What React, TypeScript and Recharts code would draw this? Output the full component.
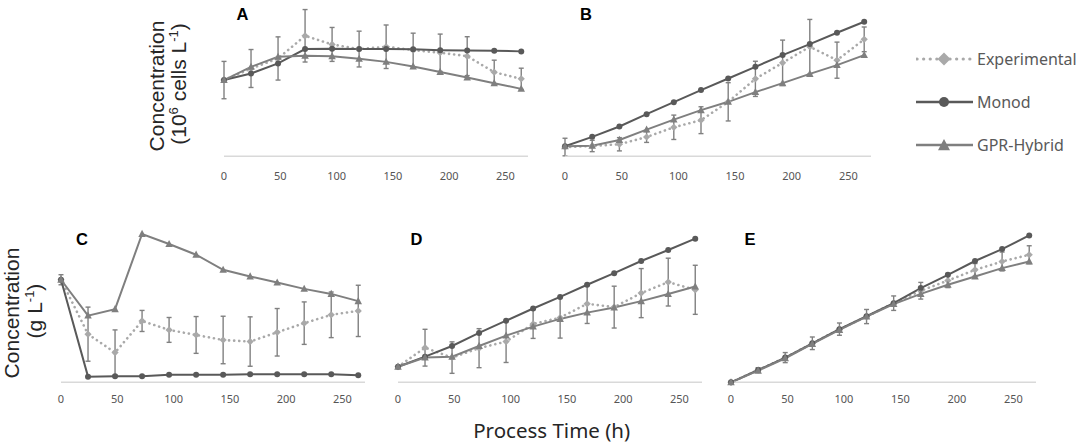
import React from "react";
import { LineChart, Line, XAxis, YAxis, ErrorBar, Legend } from "recharts";

// sampling times (h)
const TIME = [0, 24, 48, 72, 96, 120, 144, 168, 192, 216, 240, 264];
const X_TICKS = [0, 50, 100, 150, 200, 250];
const LEGEND_ORDER = ["exp", "monod", "gpr"];

// A - biomass (relative units, y axis has no labels)
const A_EXP = [49.4, 56.9, 63.4, 78.1, 72.5, 69.5, 71.0, 68.8, 67.1, 64.9, 54.5, 50.2];
const A_EXP_ERR = [12.1, 12.3, 14.0, 17.0, 11.0, 11.6, 14.1, 11.0, 12.1, 12.6, 7.8, 6.9];
const A_MONOD = [49.4, 53.7, 60.2, 69.5, 69.7, 69.5, 69.5, 69.3, 68.8, 68.6, 68.4, 68.0];
const A_GPR = [49.4, 58.0, 64.5, 65.1, 64.9, 63.2, 61.2, 58.2, 54.7, 51.1, 47.4, 43.7];

// B
const B_EXP = [6.0, 6.7, 7.8, 12.5, 18.8, 23.4, 35.3, 50.2, 60.6, 71.0, 62.3, 75.8];
const B_EXP_ERR = [5.7, 3.7, 4.3, 3.5, 7.9, 8.7, 12.4, 11.4, 14.7, 17.7, 11.7, 8.0];
const B_MONOD = [6.5, 12.6, 19.3, 27.3, 35.1, 42.9, 50.4, 58.0, 65.6, 72.7, 80.1, 87.2];
const B_GPR = [6.5, 6.9, 10.6, 17.3, 23.8, 29.9, 35.3, 41.6, 47.4, 53.4, 59.1, 65.6];

// C
const C_EXP = [65.2, 30.6, 18.9, 39.0, 33.3, 30.1, 26.9, 25.9, 31.8, 37.6, 42.9, 45.4];
const C_EXP_ERR = [3.2, 17.2, 14.4, 6.7, 7.9, 11.7, 15.1, 15.7, 15.1, 13.5, 14.5, 16.3];
const C_MONOD = [65.2, 3.6, 3.8, 3.8, 4.8, 4.8, 4.8, 5.1, 5.1, 5.1, 5.1, 4.5];
const C_GPR = [65.2, 42.4, 46.5, 94.3, 87.9, 81.1, 71.5, 67.3, 63.4, 59.4, 56.2, 51.6];

// D
const D_EXP = [9.9, 22.0, 15.7, 21.7, 25.9, 37.1, 41.1, 49.9, 47.8, 56.7, 63.7, 58.8];
const D_EXP_ERR = [0, 11.7, 10.0, 12.4, 13.3, 9.2, 13.0, 12.5, 13.3, 15.6, 15.2, 15.6];
const D_MONOD = [9.9, 16.3, 23.1, 31.4, 39.2, 46.9, 54.3, 62.0, 69.4, 77.1, 84.1, 91.3];
const D_GPR = [9.9, 15.7, 16.3, 23.1, 29.7, 35.4, 40.3, 44.3, 47.5, 51.6, 56.1, 60.9];

// E
const E_EXP = [0, 7.8, 15.7, 24.8, 33.8, 41.8, 50.3, 58.2, 64.7, 71.5, 76.8, 81.1];
const E_EXP_ERR = [0, 1.5, 3.2, 4.0, 3.9, 4.5, 4.6, 5.3, 4.5, 4.0, 6.0, 5.7];
const E_MONOD = [0, 7.8, 15.7, 24.8, 33.8, 42.0, 50.3, 59.9, 68.3, 77.1, 84.7, 93.4];
const E_GPR = [0, 7.4, 15.3, 24.4, 33.3, 41.8, 49.7, 56.2, 62.0, 67.3, 72.6, 76.8];

const C_MON = "#595959";
const C_GPR_COL = "#7f7f7f";
const C_EXP_COL = "#a9a9a9";
const C_ERR = "#808080";
const AXIS = "#d9d9d9";
const ARIAL = "'Liberation Sans', Arial, sans-serif";
const SANS = "'Noto Sans', sans-serif";

const rows = (exp: number[], err: number[], monod: number[], gpr: number[]) =>
  TIME.map((t, i) => ({ t, exp: exp[i], err: err[i], monod: monod[i], gpr: gpr[i] }));

const circleDot = (r: number) => (p: any) =>
  <circle key={`c${p.index}`} cx={p.cx} cy={p.cy} r={r} fill={C_MON} stroke="none" />;

const triPath = (cx: number, cy: number, s: number) =>
  `M${cx},${cy - s * 0.55}L${cx + s / 2},${cy + s * 0.4}L${cx - s / 2},${cy + s * 0.4}Z`;
const triDot = (s: number) => (p: any) =>
  <path key={`t${p.index}`} d={triPath(p.cx, p.cy, s)} fill={C_GPR_COL} stroke="none" />;

const diaPath = (cx: number, cy: number, s: number) =>
  `M${cx},${cy - s}L${cx + s},${cy}L${cx},${cy + s}L${cx - s},${cy}Z`;
const diaDot = (s: number) => (p: any) =>
  <path key={`d${p.index}`} d={diaPath(p.cx, p.cy, s)} fill={C_EXP_COL} stroke="none" />;

function LegendBox(props: any) {
  const items = [...(props.payload ?? [])].sort(
    (a: any, b: any) => LEGEND_ORDER.indexOf(a.dataKey) - LEGEND_ORDER.indexOf(b.dataKey)
  );
  return (
    <div style={{ width: 170 }}>
      {items.map((it: any) => (
        <div key={it.value} style={{ display: "flex", alignItems: "center", height: 42.8 }}>
          <svg width={57} height={16} style={{ display: "block" }}>
            {it.dataKey === "exp" ? (
              <>
                <line x1={1} y1={8} x2={56} y2={8} stroke={C_EXP_COL} strokeWidth={3.2}
                  strokeDasharray="0.1 6.5" strokeLinecap="round" />
                <path d={diaPath(28, 8, 6.5)} fill={C_EXP_COL} />
              </>
            ) : it.dataKey === "monod" ? (
              <>
                <line x1={0} y1={8} x2={57} y2={8} stroke={C_MON} strokeWidth={2.6} />
                <circle cx={28} cy={8} r={5} fill={C_MON} />
              </>
            ) : (
              <>
                <line x1={0} y1={8} x2={57} y2={8} stroke={C_GPR_COL} strokeWidth={2.6} />
                <path d={triPath(28, 8.5, 12)} fill={C_GPR_COL} />
              </>
            )}
          </svg>
          <span style={{ marginLeft: 4, fontFamily: SANS, fontSize: 16, color: "#595959", lineHeight: "16px" }}>
            {it.value}
          </span>
        </div>
      ))}
    </div>
  );
}

type PanelProps = {
  data: ReturnType<typeof rows>;
  left: number;
  top: number;
  width: number;
  height: number;
  tickMargin: number;
  legend?: boolean;
};

function Panel({ data, left, top, width, height, tickMargin, legend }: PanelProps) {
  const ml = 6, mr = 10, mt = 6, mb = 34;
  return (
    <div style={{ position: "absolute", left: left - ml, top: top - mt }}>
      <LineChart
        width={width + ml + mr}
        height={height + mt + mb}
        data={data}
        margin={{ top: mt, right: mr, left: ml, bottom: 0 }}
      >
        <XAxis
          dataKey="t"
          type="number"
          domain={[0, 270]}
          ticks={X_TICKS}
          interval={0}
          height={mb}
          tickLine={false}
          tickMargin={tickMargin}
          axisLine={{ stroke: AXIS, strokeWidth: 1.5 }}
          tick={{ fontSize: 11, fill: "#555555", fontFamily: SANS }}
        />
        <YAxis
          type="number"
          domain={[0, 100]}
          width={0}
          tick={false}
          tickLine={false}
          axisLine={{ stroke: AXIS, strokeWidth: 1.5 }}
        />
        <Line
          dataKey="exp"
          name="Experimental"
          stroke={C_EXP_COL}
          strokeWidth={2.6}
          strokeDasharray="0.1 5"
          strokeLinecap="round"
          dot={diaDot(3.6)}
          activeDot={false}
          isAnimationActive={false}
        >
          <ErrorBar dataKey="err" width={2.5} stroke={C_ERR} strokeWidth={1.4} direction="y" isAnimationActive={false} />
        </Line>
        <Line
          dataKey="monod"
          name="Monod"
          stroke={C_MON}
          strokeWidth={2}
          dot={circleDot(3)}
          activeDot={false}
          isAnimationActive={false}
        />
        <Line
          dataKey="gpr"
          name="GPR-Hybrid"
          stroke={C_GPR_COL}
          strokeWidth={2}
          dot={triDot(7.5)}
          activeDot={false}
          isAnimationActive={false}
        />
        {legend && (
          <Legend
            layout="vertical"
            align="center"
            verticalAlign="middle"
            content={<LegendBox />}
            wrapperStyle={{ left: 357, top: 42, width: 180 }}
          />
        )}
      </LineChart>
    </div>
  );
}

const supStyle = { fontSize: 13 };

export default function App() {
  return (
    <div style={{ position: "absolute", left: 0, top: 0, width: 1080, height: 445, background: "#fff", overflow: "hidden" }}>
      <Panel data={rows(A_EXP, A_EXP_ERR, A_MONOD, A_GPR)} left={224} top={1.7} width={304} height={154.3} tickMargin={10} />
      <Panel data={rows(B_EXP, B_EXP_ERR, B_MONOD, B_GPR)} left={565} top={1.7} width={306} height={154.3} tickMargin={10} legend />
      <Panel data={rows(C_EXP, C_EXP_ERR, C_MONOD, C_GPR)} left={61} top={225} width={304} height={157.3} tickMargin={7} />
      <Panel data={rows(D_EXP, D_EXP_ERR, D_MONOD, D_GPR)} left={398} top={225} width={304} height={157.3} tickMargin={7} />
      <Panel data={rows(E_EXP, E_EXP_ERR, E_MONOD, E_GPR)} left={731} top={225} width={305} height={157.3} tickMargin={7} />

      <svg width={1080} height={445} style={{ position: "absolute", left: 0, top: 0, pointerEvents: "none" }}>
        <g fontFamily={ARIAL} fontWeight="bold" fontSize={16.5} fill="#000">
          <text x={236.5} y={20}>A</text>
          <text x={580} y={19.5}>B</text>
          <text x={76} y={244.5}>C</text>
          <text x={410.5} y={244.5}>D</text>
          <text x={744.5} y={244.5}>E</text>
        </g>
        <g fontFamily={ARIAL} fontSize={21} fill="#262626" textAnchor="middle">
          <text transform="translate(163.5,86) rotate(-90)">Concentration</text>
          <text transform="translate(186,84) rotate(-90)">
            (10<tspan dy={-8} style={supStyle}>6</tspan>
            <tspan dy={8}> cells L</tspan>
            <tspan dy={-8} style={supStyle}>-1</tspan>
            <tspan dy={8}>)</tspan>
          </text>
          <text transform="translate(18.5,313) rotate(-90)">Concentration</text>
          <text transform="translate(42,311) rotate(-90)">
            (g L<tspan dy={-8} style={supStyle}>-1</tspan>
            <tspan dy={8}>)</tspan>
          </text>
        </g>
        <text x={551.7} y={438} textAnchor="middle" fontFamily={SANS} fontSize={20.5} fill="#262626">
          Process Time (h)
        </text>
      </svg>
    </div>
  );
}
